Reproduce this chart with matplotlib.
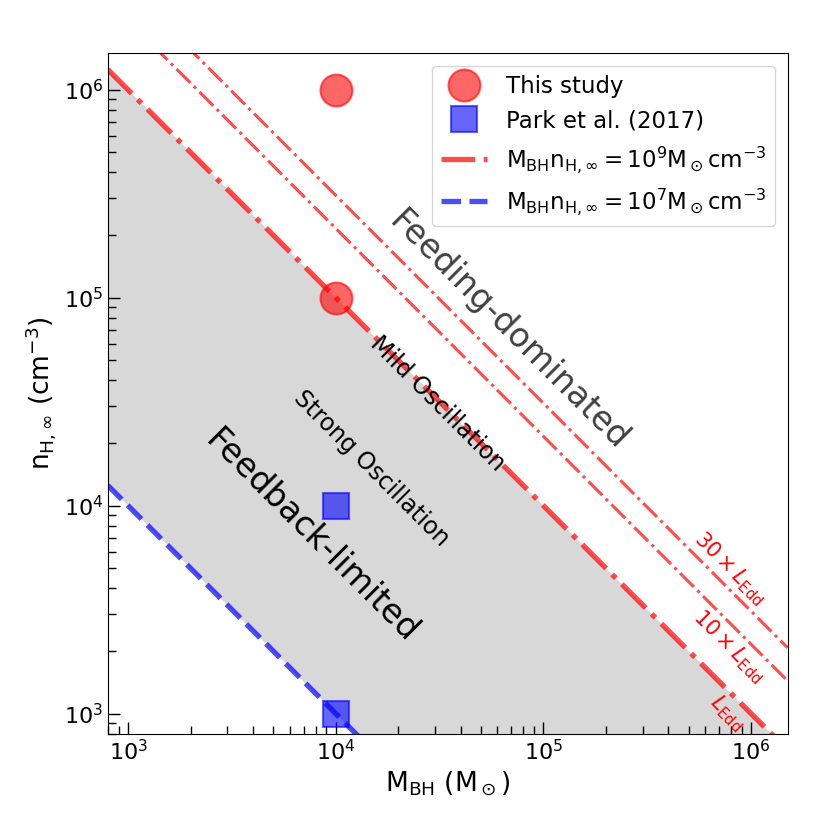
import numpy as np
import matplotlib
matplotlib.use("Agg")
import matplotlib.pyplot as plt

# data points
study_M = [1e4, 1e4]
study_n = [1e6, 1e5]
park_M = [1e4, 1e4]
park_n = [1e4, 1e3]

# M_BH * n_H boundaries (M_sun cm^-3)
edd_prod = 1e9
lim_prod = 1e7
super_factors = [10, 30]   # multiples of L_Edd, M n ~ L^(1/3)

xlim = (8e2, 1.5e6)
ylim = (8e2, 1.5e6)

fig = plt.figure(figsize=(8.3, 8.3), dpi=100)
ax = fig.add_axes([0.130, 0.116, 0.819, 0.820])

xx = np.logspace(np.log10(xlim[0]), np.log10(xlim[1]), 200)

# shaded region between the two lines
ax.fill_between(xx, lim_prod / xx, edd_prod / xx, color='gray', alpha=0.3, lw=0)

for fac in super_factors:
    ax.plot(xx, edd_prod * fac**(1/3.) / xx, 'r-.', lw=2.2, alpha=0.7)

ax.plot(xx, edd_prod / xx, 'r-.', lw=3.8, alpha=0.7,
        label=r'$\mathrm{M_{BH}n_{H,\infty}=10^9M_\odot cm^{-3}}$')
ax.plot(xx, lim_prod / xx, 'b--', lw=3.8, alpha=0.7,
        label=r'$\mathrm{M_{BH}n_{H,\infty}=10^7M_\odot cm^{-3}}$')

ax.plot(study_M, study_n, 'o', color='r', alpha=0.6, ms=23, mec='r', mew=1.5,
        label='This study', zorder=5)
ax.plot(park_M, park_n, 's', color='b', alpha=0.6, ms=19, mec='b', mew=1.5,
        label='Park et al. (2017)', zorder=5)

ax.set_xscale('log')
ax.set_yscale('log')
ax.set_xlim(xlim)
ax.set_ylim(ylim)

ax.tick_params(which='both', direction='in', labelsize=16)
ax.tick_params(which='major', length=8.5, width=1)
ax.tick_params(which='minor', length=5.8, width=1)

ax.set_xlabel(r'$\mathrm{M_{BH}\ (M_\odot)}$', fontsize=19)
ax.set_ylabel(r'$\mathrm{n_{H,\infty}\ (cm^{-3})}$', fontsize=19)

# region labels
ax.text(0.59, 0.593, 'Feeding-dominated', transform=ax.transAxes, fontsize=24,
        color='#404040', rotation=-45, ha='center', va='center')
ax.text(0.30, 0.29, 'Feedback-limited', transform=ax.transAxes, fontsize=24,
        color='k', rotation=-45, ha='center', va='center')
ax.text(0.388, 0.390, 'Strong Oscillation', transform=ax.transAxes, fontsize=17,
        color='k', rotation=-45, ha='center', va='center')
ax.text(0.485, 0.485, 'Mild Oscillation', transform=ax.transAxes, fontsize=17,
        color='k', rotation=-45, ha='center', va='center')

ax.text(0.915, 0.243, r'$30\times L_{\rm Edd}$', transform=ax.transAxes, fontsize=15,
        color='r', rotation=-45, ha='center', va='center')
ax.text(0.914, 0.128, r'$10\times L_{\rm Edd}$', transform=ax.transAxes, fontsize=15,
        color='r', rotation=-45, ha='center', va='center')
ax.text(0.911, 0.030, r'$L_{\rm Edd}$', transform=ax.transAxes, fontsize=15,
        color='r', rotation=-45, ha='center', va='center')

h, l = ax.get_legend_handles_labels()
order = [2, 3, 0, 1]
ax.legend([h[i] for i in order], [l[i] for i in order], loc='upper right',
          fontsize=16.5, borderaxespad=0.55)

fig.savefig('out.png', dpi=100)
